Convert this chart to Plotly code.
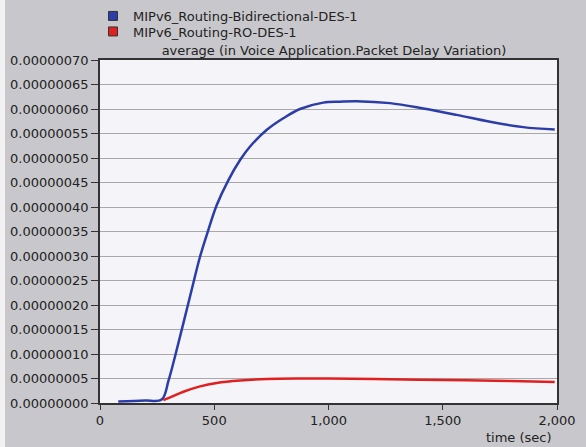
import plotly.graph_objects as go

# Series
t_bidir = [80, 150, 200, 270, 300, 328, 365, 408, 438, 474, 511, 562, 613, 656, 729, 802, 875,
           977, 1050, 1123, 1269, 1415, 1561, 1707, 1852, 1990]
v_bidir = [0.003, 0.004, 0.005, 0.007, 0.046, 0.0945, 0.163, 0.244, 0.299, 0.353, 0.404, 0.455,
           0.496, 0.523, 0.557, 0.581, 0.600, 0.613, 0.615, 0.616, 0.612, 0.601, 0.588, 0.574,
           0.563, 0.558]
t_ro = [277, 320, 365, 438, 511, 613, 729, 875, 1000, 1200, 1500, 1800, 1990]
v_ro = [0.006, 0.014, 0.023, 0.034, 0.041, 0.046, 0.049, 0.050, 0.050, 0.049, 0.047, 0.045, 0.043]

names = ["MIPv6_Routing-Bidirectional-DES-1", "MIPv6_Routing-RO-DES-1"]
colors = ["#2b3da8", "#e02020"]

y_ticks = [i * 0.05e-6 for i in range(15)]
y_labels = ["%.8f" % v for v in y_ticks]
x_ticks = [0, 500, 1000, 1500, 2000]
x_labels = ["0", "500", "1,000", "1,500", "2,000"]

W, H = 586, 447
L, R, T, B = 100, 29, 60, 44
FS = 13
fig = go.Figure()
for t, v, n, c in [(t_bidir, v_bidir, names[0], colors[0]), (t_ro, v_ro, names[1], colors[1])]:
    fig.add_trace(go.Scatter(x=t, y=[a * 1e-6 for a in v], mode="lines",
                             line=dict(color=c, width=2.5, shape="spline"),
                             showlegend=False, name=n))
for i, (n, c) in enumerate(zip(names, colors)):
    fig.add_trace(go.Scatter(x=[None], y=[None], mode="markers", name=n,
                             legend="legend" if i == 0 else "legend2",
                             marker=dict(symbol="square", size=9, color=c, line=dict(color="#333", width=1))))

font = "DejaVu Sans, Verdana, sans-serif"
leg_common = dict(xref="container", yref="container", xanchor="left", yanchor="middle",
                  bgcolor="rgba(0,0,0,0)", font=dict(size=FS, color="#222"), itemwidth=30)
fig.update_layout(
    width=W, height=H,
    margin=dict(l=L, r=R, t=T, b=B, autoexpand=False),
    paper_bgcolor="#c8c8cc", plot_bgcolor="#f5f4f8",
    font=dict(family=font, size=FS, color="#222"),
    title=dict(text="average (in Voice Application.Packet Delay Variation)", x=334 / W, xanchor="center",
               y=1 - 50 / H, yanchor="middle", font=dict(size=FS, color="#222")),
    legend=dict(x=93 / W, y=1 - 16 / H, **leg_common),
    legend2=dict(x=93 / W, y=1 - 31.5 / H, **leg_common),
    showlegend=True,
)
fig.add_shape(type="rect", xref="paper", yref="paper", x0=-L / 457, x1=-(L - 5) / 457,
              y0=-B / 343, y1=1 + T / 343, line_width=0, fillcolor="#f2f2f2", layer="below")
fig.update_xaxes(range=[0, 2000], tickvals=x_ticks, ticktext=x_labels, showgrid=False, zeroline=False,
                 showline=True, linecolor="#333", linewidth=1.5, mirror=True, ticks="outside", ticklen=5,
                 tickcolor="#333", title=None)
fig.update_yaxes(range=[0, 0.7e-6], tickvals=y_ticks, ticktext=y_labels, showgrid=True, gridcolor="#a8a8a8",
                 gridwidth=1, zeroline=False, showline=True, linecolor="#333", linewidth=1.5, mirror=True,
                 ticks="outside", ticklen=7, tickcolor="#333")
fig.add_annotation(text="time (sec)", xref="paper", yref="paper", x=1.0, y=0, xshift=-3, yshift=-34,
                   xanchor="right", yanchor="middle", showarrow=False, font=dict(size=FS, color="#222"))
fig.write_html("out.html", config={"displayModeBar": False},
               post_script="document.body.style.margin='0';")
